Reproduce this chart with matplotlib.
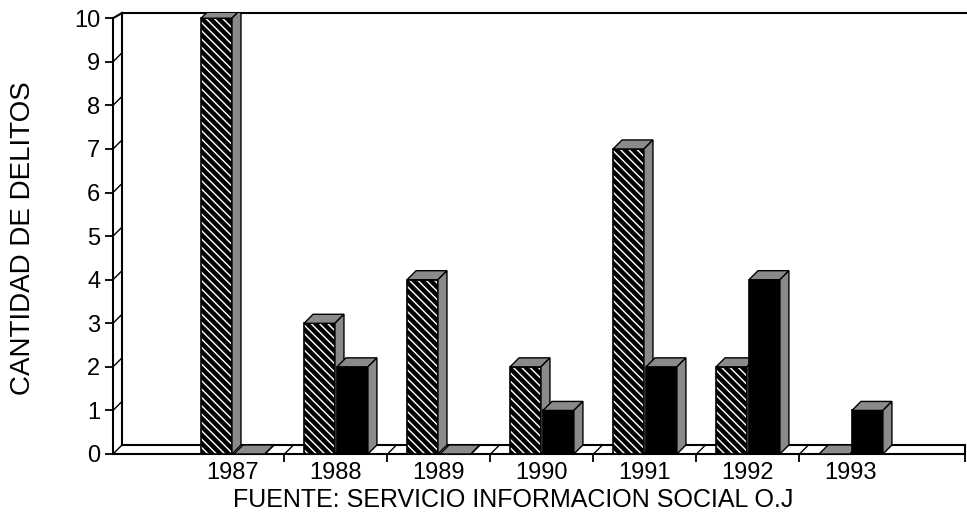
import numpy as np
import matplotlib.pyplot as plt
from matplotlib.patches import Polygon

plt.rcParams['font.family'] = ['Liberation Sans', 'DejaVu Sans']
plt.rcParams['hatch.linewidth'] = 3.2

# --- Datos ---
anios = ['1987', '1988', '1989', '1990', '1991', '1992', '1993']
serie_rayada = [10, 3, 4, 2, 7, 2, 0]
serie_negra = [0, 2, 0, 1, 2, 4, 1]
yticks = list(range(0, 11))

fig = plt.figure(figsize=(9.67, 5.30), dpi=100)
ax = fig.add_axes([113 / 967, 76 / 530, 852 / 967, 441 / 530])

xmin, xmax = -1.165, 7.107
ytop = 10.12
ax.set_xlim(xmin, xmax)
ax.set_ylim(0, ytop)

# profundidad del efecto 3D (en unidades de datos)
dx = 9 / 103
dy = 9 / 43.6
ancho = 0.30
x = np.arange(len(anios))


def barra_3d(xc, h, cara, z):
    izq, der = xc - ancho / 2, xc + ancho / 2
    if cara == 'rayada':
        ax.bar(xc, h, ancho, facecolor='white', edgecolor='black',
               hatch='\\\\\\\\', linewidth=1.2, zorder=z)
    else:
        ax.bar(xc, h, ancho, facecolor='black', edgecolor='black',
               linewidth=1.2, zorder=z)
    arriba = Polygon([(izq, h), (izq + dx, h + dy), (der + dx, h + dy), (der, h)],
                     closed=True, facecolor='#8a8a8a', edgecolor='black',
                     linewidth=1.0, zorder=z)
    lado = Polygon([(der, 0), (der, h), (der + dx, h + dy), (der + dx, dy)],
                   closed=True, facecolor='#8a8a8a', edgecolor='black',
                   linewidth=1.0, zorder=z)
    ax.add_patch(arriba)
    ax.add_patch(lado)


for i in range(len(anios)):
    barra_3d(x[i] - 0.16, serie_rayada[i], 'rayada', 3 + 2 * i)
    barra_3d(x[i] + 0.16, serie_negra[i], 'negra', 4 + 2 * i)

# --- Marco 3D (pared izquierda y piso) ---
kw = dict(color='black', linewidth=1.5, clip_on=False, zorder=2)
ax.plot([xmin, xmax], [0, 0], **kw)
ax.plot([xmin + dx, xmax], [dy, dy], **kw)
ax.plot([xmin, xmin], [0, 10], **kw)
ax.plot([xmin + dx, xmin + dx], [dy, ytop], **kw)
ax.plot([xmin + dx, xmax + 0.03], [ytop, ytop], **kw)
ax.plot([xmin, xmin + dx], [10, ytop], **kw)
ax.plot([xmax, xmax], [dy, 0], **kw)
for v in yticks[:-1]:
    ax.plot([xmin, xmin + dx], [v, v + dy], color='black', linewidth=1.0,
            clip_on=False, zorder=2)
limites = list(x[:-1] + 0.5)
for b in limites:
    ax.plot([b, b + dx], [0, dy], color='black', linewidth=1.0,
            clip_on=False, zorder=2)

for s in ax.spines.values():
    s.set_visible(False)

ax.set_yticks(yticks)
ax.set_yticklabels([str(v) for v in yticks])
ax.tick_params(axis='y', length=6, width=1.3, pad=3, labelsize=17)

ax.set_xticks(limites + [xmax])
ax.set_xticklabels([])
ax.set_xticks(x, minor=True)
ax.set_xticklabels(anios, minor=True)
ax.tick_params(axis='x', which='major', length=6, width=1.3)
ax.tick_params(axis='x', which='minor', length=0, pad=6, labelsize=17)

fig.text(23 / 967, 1 - 238 / 530, 'CANTIDAD DE DELITOS', rotation=90,
         ha='center', va='center', fontsize=20)
fig.text(513 / 967, 1 - 500 / 530, 'FUENTE: SERVICIO INFORMACION SOCIAL O.J',
         ha='center', va='center', fontsize=18)

fig.savefig('out.png', dpi=100)
